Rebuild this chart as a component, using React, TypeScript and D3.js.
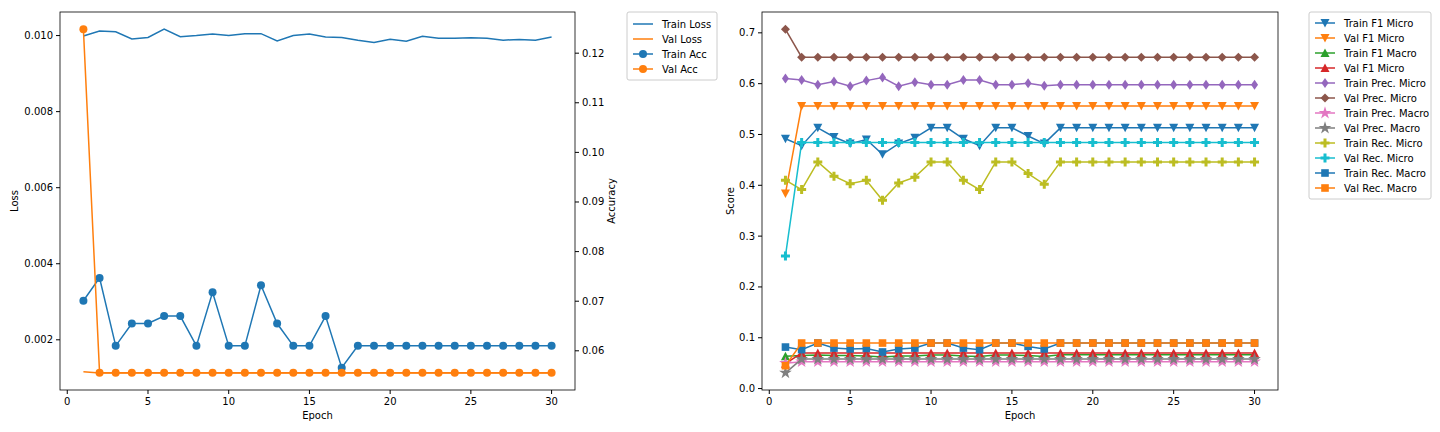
import React from "react"
import * as d3 from "d3"

const epochs = d3.range(1, 31)

const trainLoss = [0.00999, 0.01012, 0.0101, 0.00991, 0.00995, 0.01017, 0.00997, 0.01, 0.01004, 0.01, 0.01005, 0.01005, 0.00986, 0.01, 0.01004, 0.00996, 0.00995, 0.00988, 0.00982, 0.0099, 0.00985, 0.00998, 0.00993, 0.00993, 0.00994, 0.00993, 0.00988, 0.0099, 0.00988, 0.00996]
const valLoss = [0.00116, ...Array(29).fill(0.00113)]
const trainAcc = [0.0701, 0.0747, 0.061, 0.0655, 0.0655, 0.067, 0.067, 0.061, 0.0718, 0.061, 0.061, 0.0732, 0.0655, 0.061, 0.061, 0.067, 0.0566, ...Array(13).fill(0.061)]
const valAcc = [0.1248, ...Array(29).fill(0.0556)]

const trainF1Micro = [0.4915, 0.478, 0.513, 0.495, 0.482, 0.49, 0.461, 0.482, 0.4935, 0.513, 0.513, 0.4915, 0.478, 0.513, 0.513, 0.497, 0.482, ...Array(13).fill(0.513)]
const valF1Micro = [0.384, ...Array(29).fill(0.556)]
const trainF1Macro = [0.0634, 0.065, 0.066, 0.065, 0.065, 0.064, 0.062, 0.064, 0.064, 0.066, 0.066, 0.064, 0.063, 0.066, 0.066, 0.065, 0.063, ...Array(13).fill(0.0667)]
const valF1Macro = [0.049, ...Array(29).fill(0.07)]
const trainPrecMicro = [0.61, 0.607, 0.598, 0.604, 0.595, 0.606, 0.612, 0.595, 0.603, 0.598, 0.598, 0.607, 0.607, 0.598, 0.598, 0.601, 0.596, ...Array(13).fill(0.598)]
const valPrecMicro = [0.707, ...Array(29).fill(0.652)]
const trainPrecMacro = [0.05, ...Array(29).fill(0.053)]
const valPrecMacro = [0.031, ...Array(29).fill(0.058)]
const trainRecMicro = [0.41, 0.3915, 0.446, 0.418, 0.403, 0.41, 0.3706, 0.4045, 0.416, 0.446, 0.446, 0.41, 0.3915, 0.446, 0.446, 0.423, 0.402, ...Array(13).fill(0.446)]
const valRecMicro = [0.261, ...Array(29).fill(0.484)]
const trainRecMacro = [0.0817, 0.0765, 0.0896, 0.0797, 0.078, 0.079, 0.072, 0.078, 0.0797, 0.0896, 0.0896, 0.0797, 0.0765, 0.0896, 0.0896, 0.083, 0.078, ...Array(13).fill(0.0896)]
const valRecMacro = [0.045, ...Array(29).fill(0.0896)]

const c = d3.schemeCategory10

const scoreSeries = [
  { name: "Train F1 Micro", vals: trainF1Micro, color: c[0], m: "v" },
  { name: "Val F1 Micro", vals: valF1Micro, color: c[1], m: "v" },
  { name: "Train F1 Macro", vals: trainF1Macro, color: c[2], m: "^" },
  { name: "Val F1 Micro", vals: valF1Macro, color: c[3], m: "^" },
  { name: "Train Prec. Micro", vals: trainPrecMicro, color: c[4], m: "d" },
  { name: "Val Prec. Micro", vals: valPrecMicro, color: c[5], m: "D" },
  { name: "Train Prec. Macro", vals: trainPrecMacro, color: c[6], m: "*" },
  { name: "Val Prec. Macro", vals: valPrecMacro, color: c[7], m: "*" },
  { name: "Train Rec. Micro", vals: trainRecMicro, color: c[8], m: "P" },
  { name: "Val Rec. Micro", vals: valRecMicro, color: c[9], m: "P" },
  { name: "Train Rec. Macro", vals: trainRecMacro, color: c[0], m: "s" },
  { name: "Val Rec. Macro", vals: valRecMacro, color: c[1], m: "s" },
]

const font = "DejaVu Sans, sans-serif"

function Marker({ m, x, y, color }) {
  if (m === "o") return <circle cx={x} cy={y} r={4} fill={color} />
  if (m === "s") return <rect x={x - 3.8} y={y - 3.8} width={7.6} height={7.6} fill={color} />
  if (m === "v") return <path d={`M${x - 4.5},${y - 4}L${x + 4.5},${y - 4}L${x},${y + 4.5}Z`} fill={color} />
  if (m === "^") return <path d={`M${x - 4.5},${y + 4}L${x + 4.5},${y + 4}L${x},${y - 4.5}Z`} fill={color} />
  if (m === "d") return <path d={`M${x},${y - 5}L${x + 3.5},${y}L${x},${y + 5}L${x - 3.5},${y}Z`} fill={color} />
  if (m === "D") return <path d={`M${x},${y - 4.5}L${x + 4.5},${y}L${x},${y + 4.5}L${x - 4.5},${y}Z`} fill={color} />
  const type = m === "*" ? d3.symbolStar : d3.symbolCross
  return <path transform={`translate(${x},${y})`} d={d3.symbol(type, m === "*" ? 50 : 45)()} fill={color} />
}

function XAxis({ x, y0, bottom }) {
  return (
    <g>
      {[0, 5, 10, 15, 20, 25, 30].map((t) => (
        <g key={t}>
          <line x1={x(t)} x2={x(t)} y1={bottom} y2={bottom + 4} stroke="#000" />
          <text x={x(t)} y={bottom + 15} textAnchor="middle" fontSize={10}>{t}</text>
        </g>
      ))}
      <text x={(x.range()[0] + x.range()[1]) / 2} y={bottom + 29} textAnchor="middle" fontSize={10}>Epoch</text>
    </g>
  )
}

function YAxis({ y, ticks, fmt, xPos, side, label, labelX }) {
  const d = side === "left" ? -1 : 1
  const mid = (y.range()[0] + y.range()[1]) / 2
  return (
    <g>
      {ticks.map((t) => (
        <g key={t}>
          <line x1={xPos} x2={xPos + 4 * d} y1={y(t)} y2={y(t)} stroke="#000" />
          <text x={xPos + 7 * d} y={y(t) + 3.5} textAnchor={side === "left" ? "end" : "start"} fontSize={10}>{fmt(t)}</text>
        </g>
      ))}
      <text transform={`translate(${labelX},${mid}) rotate(-90)`} textAnchor="middle" fontSize={10}>{label}</text>
    </g>
  )
}

export default function App() {
  const top = 12, bottom = 390
  const xL = d3.scaleLinear().domain([-0.45, 31.45]).range([60, 575])
  const xR = d3.scaleLinear().domain([-0.45, 31.45]).range([762, 1278])
  const yLoss = d3.scaleLinear().domain([0.00068, 0.01062]).range([bottom, top])
  const yAcc = d3.scaleLinear().domain([0.0521, 0.1283]).range([bottom, top])
  const yScore = d3.scaleLinear().domain([-0.0028, 0.741]).range([bottom, top])

  const line = (x, y, vals) => d3.line<number>().x((_, i) => x(epochs[i])).y((v) => y(v))(vals)

  const leftSeries = [
    { vals: trainLoss, y: yLoss, color: c[0], m: null, name: "Train Loss" },
    { vals: valLoss, y: yLoss, color: c[1], m: null, name: "Val Loss" },
    { vals: trainAcc, y: yAcc, color: c[0], m: "o", name: "Train Acc" },
    { vals: valAcc, y: yAcc, color: c[1], m: "o", name: "Val Acc" },
  ]

  return (
    <svg width={1440} height={432} style={{ position: "absolute", left: 0, top: 0, fontFamily: font, background: "#fff" }}>
      <defs>
        <clipPath id="cl"><rect x={60} y={top} width={515} height={bottom - top} /></clipPath>
        <clipPath id="cr"><rect x={762} y={top} width={516} height={bottom - top} /></clipPath>
      </defs>
      {/* left panel */}
      <g clipPath="url(#cl)">
        {leftSeries.map((s, i) => (
          <g key={i}>
            <path d={line(xL, s.y, s.vals)} fill="none" stroke={s.color} strokeWidth={1.5} />
            {s.m && s.vals.map((v, j) => <Marker key={j} m={s.m} x={xL(epochs[j])} y={s.y(v)} color={s.color} />)}
          </g>
        ))}
      </g>
      <rect x={60} y={top} width={515} height={bottom - top} fill="none" stroke="#000" strokeWidth={0.8} />
      <XAxis x={xL} bottom={bottom} />
      <YAxis y={yLoss} ticks={[0.002, 0.004, 0.006, 0.008, 0.01]} fmt={d3.format(".3f")} xPos={60} side="left" label="Loss" labelX={18} />
      <YAxis y={yAcc} ticks={[0.06, 0.07, 0.08, 0.09, 0.1, 0.11, 0.12]} fmt={d3.format(".2f")} xPos={575} side="right" label="Accuracy" labelX={615} />
      <g transform="translate(627,12)">
        <rect x={0} y={0} width={90} height={68} rx={2} fill="#fff" stroke="#ccc" />
        {leftSeries.map((s, i) => (
          <g key={i} transform={`translate(0,${12 + i * 15})`}>
            <line x1={6} x2={26} y1={0} y2={0} stroke={s.color} strokeWidth={1.5} />
            {s.m && <Marker m={s.m} x={16} y={0} color={s.color} />}
            <text x={35} y={3.5} fontSize={10}>{s.name}</text>
          </g>
        ))}
      </g>

      {/* right panel */}
      <g clipPath="url(#cr)">
        {scoreSeries.map((s, i) => (
          <g key={i}>
            <path d={line(xR, yScore, s.vals)} fill="none" stroke={s.color} strokeWidth={1.5} />
            {s.vals.map((v, j) => <Marker key={j} m={s.m} x={xR(epochs[j])} y={yScore(v)} color={s.color} />)}
          </g>
        ))}
      </g>
      <rect x={762} y={top} width={516} height={bottom - top} fill="none" stroke="#000" strokeWidth={0.8} />
      <XAxis x={xR} bottom={bottom} />
      <YAxis y={yScore} ticks={d3.range(0, 0.71, 0.1)} fmt={d3.format(".1f")} xPos={762} side="left" label="Score" labelX={734} />
      <g transform="translate(1309,12)">
        <rect x={0} y={0} width={122} height={187} rx={2} fill="#fff" stroke="#ccc" />
        {scoreSeries.map((s, i) => (
          <g key={i} transform={`translate(0,${11 + i * 15})`}>
            <line x1={6} x2={26} y1={0} y2={0} stroke={s.color} strokeWidth={1.5} />
            <Marker m={s.m} x={16} y={0} color={s.color} />
            <text x={35} y={3.5} fontSize={10}>{s.name}</text>
          </g>
        ))}
      </g>
    </svg>
  )
}
